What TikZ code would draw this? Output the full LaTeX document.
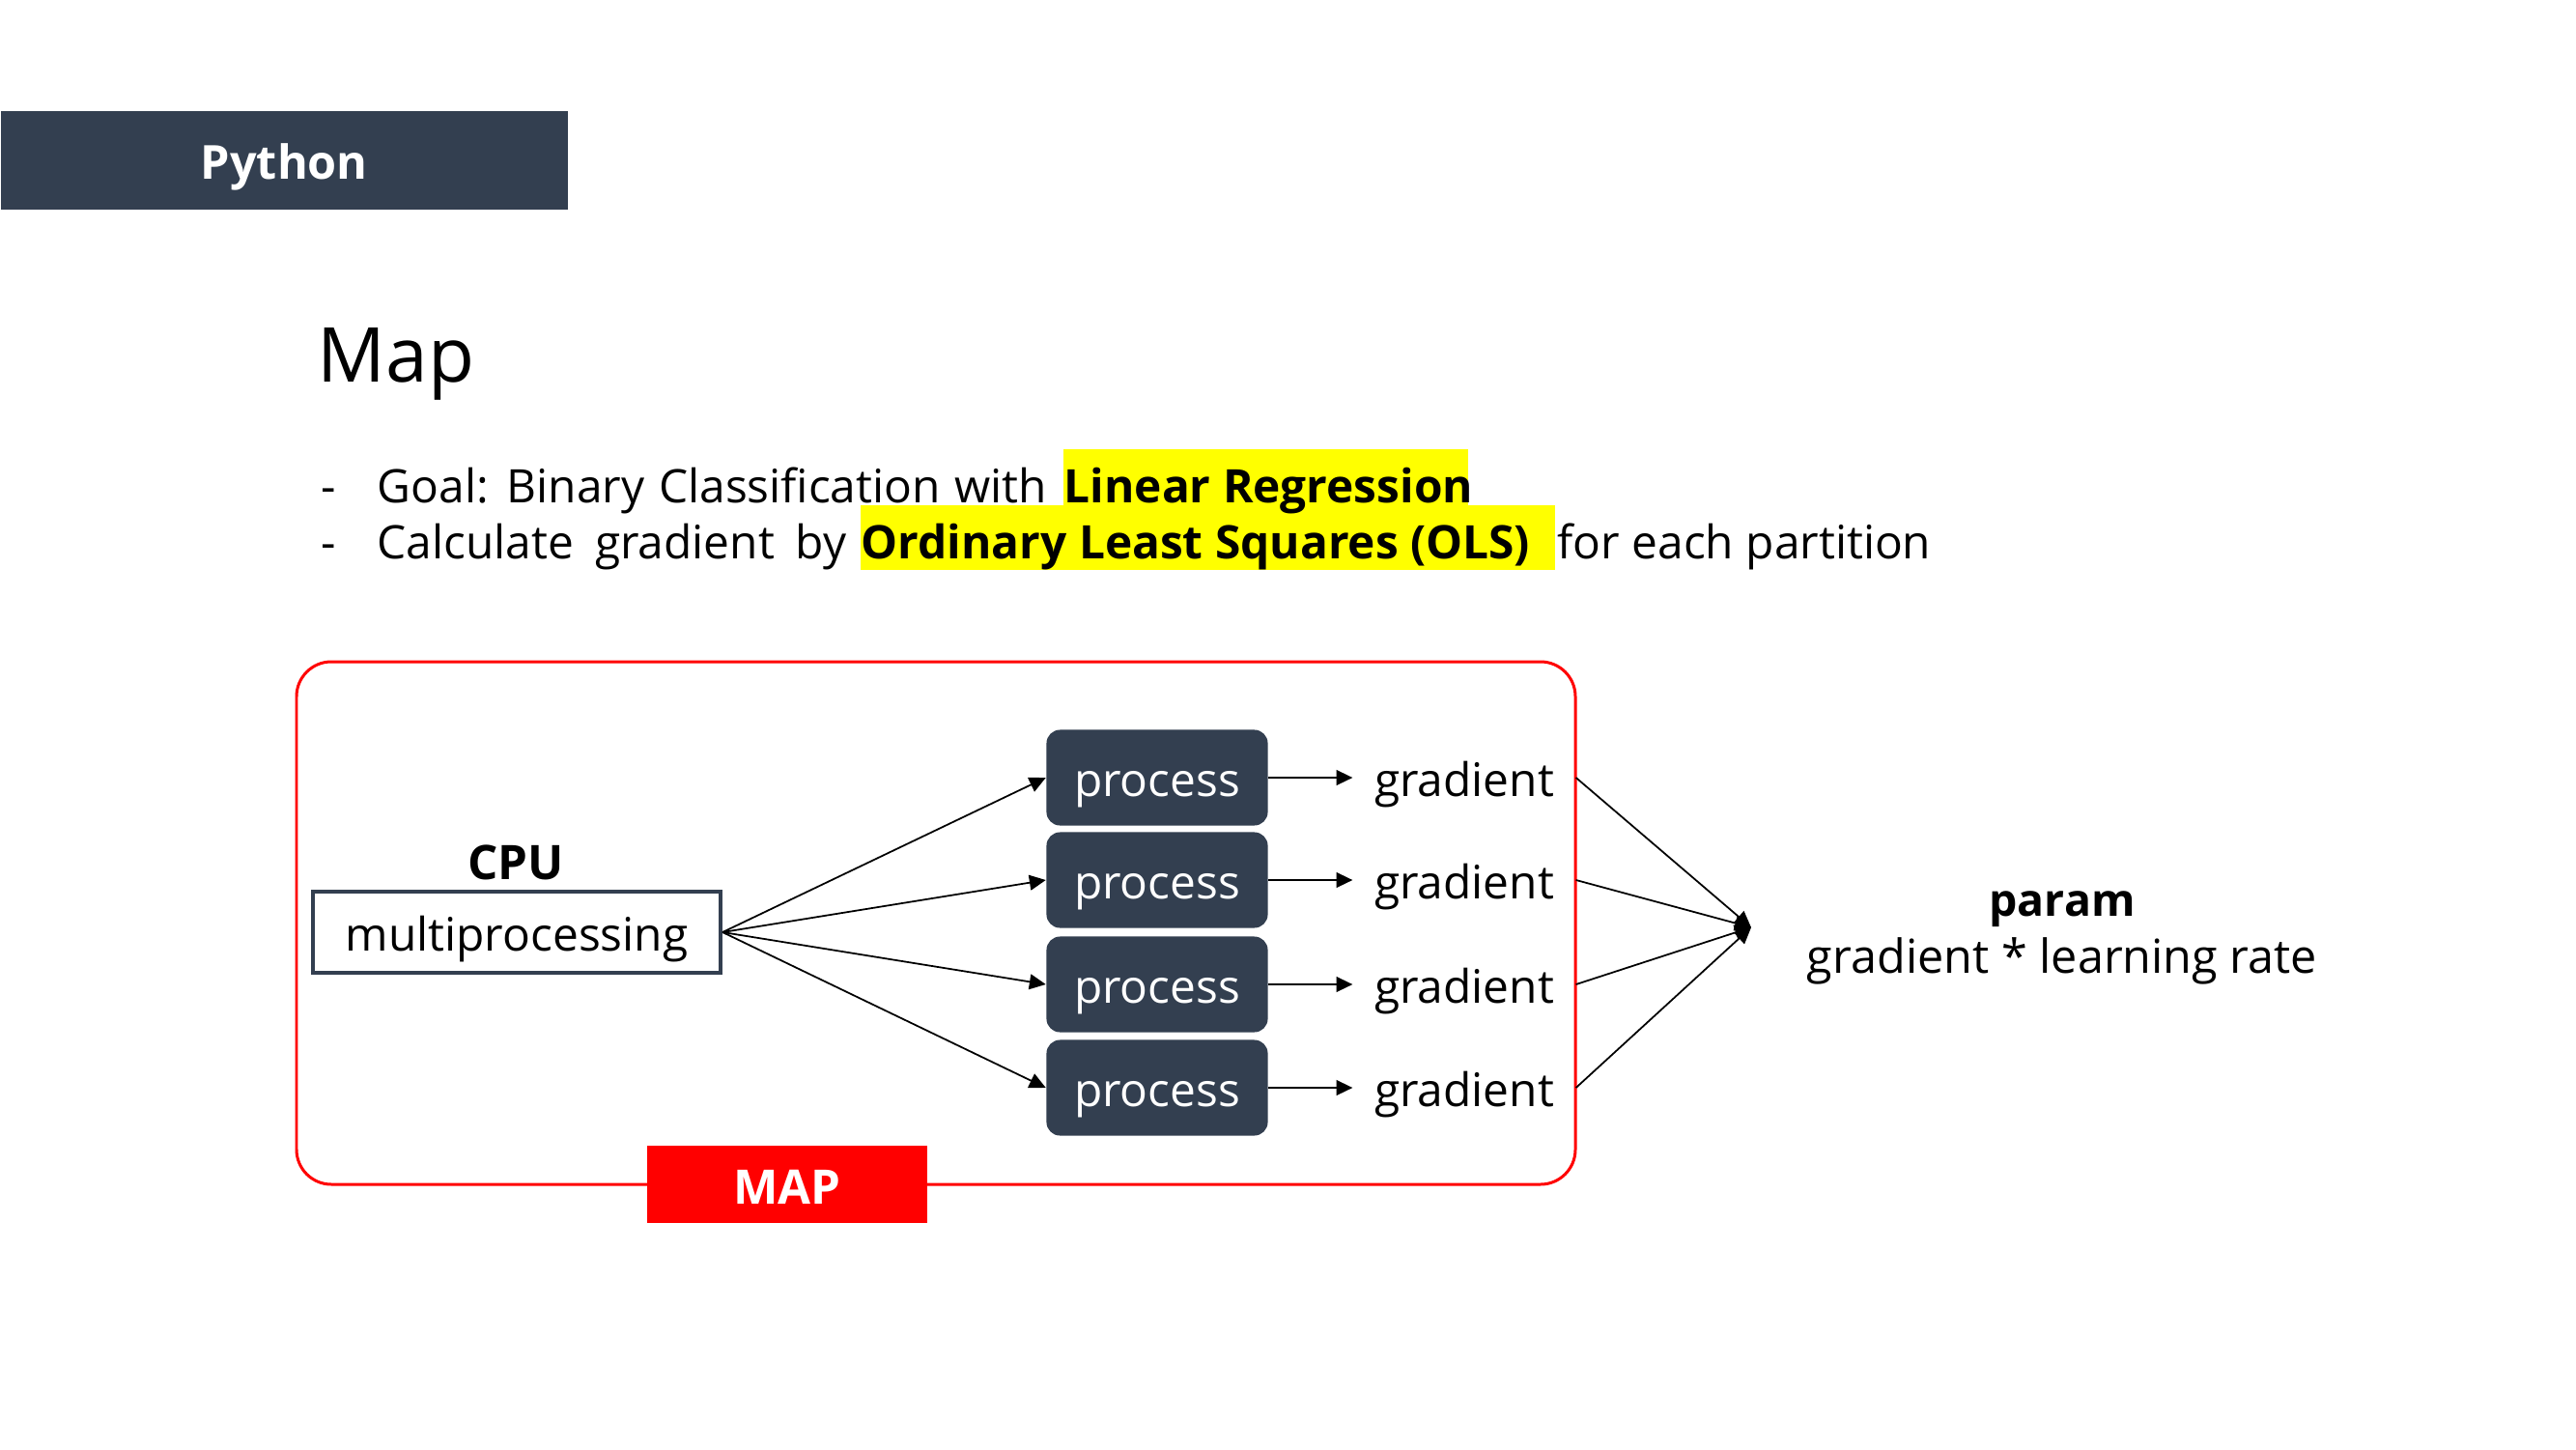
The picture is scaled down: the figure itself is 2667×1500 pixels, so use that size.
\documentclass[tikz,border=0pt]{standalone}
\usepackage{fontspec}
\setmainfont{Open Sans}
\usetikzlibrary{arrows.meta}
\definecolor{slate}{HTML}{333F50}
\definecolor{hl}{HTML}{FFFF00}
\definecolor{mapred}{HTML}{FF0000}
\tikzset{
  body/.style={font=\fontsize{13.6}{16}\selectfont, inner sep=0pt},
  boldtxt/.style={font=\bfseries\fontsize{13.6}{16}\selectfont, inner sep=0pt},
  mid/.style={text height=0.5cm, text depth=0.12cm},
  procbox/.style={fill=slate, rounded corners=0.14cm, minimum width=2.29cm, minimum height=0.99cm, inner sep=0pt, text=white, mid, font=\fontsize{13.6}{16}\selectfont},
  gradtxt/.style={font=\fontsize{13.6}{16}\selectfont, inner xsep=0.22cm, inner ysep=0pt, mid},
  arr/.style={line width=0.5pt, -{Triangle[length=4.8pt,width=4.5pt]}},
  hlbox/.style={fill=hl, draw=none},
}
\begin{document}
\begin{tikzpicture}[x=0.01cm,y=-0.01cm]
\useasboundingbox (0,0) rectangle (2667,1500);
% header
\node[fill=slate, minimum width=5.87cm, minimum height=1.02cm, anchor=north west, inner sep=0pt,
      text=white, text height=0.5cm, text depth=0.1cm, font=\bfseries\fontsize{13.8}{17}\selectfont] (pyhdr) at (0,114) {Python};
% title
\node[anchor=base west, inner sep=0pt, font=\fontsize{22.3}{27}\selectfont] (title) at (328,395) {Map};
% highlights
\fill[hlbox] (1101,465) rectangle (1520,532);
\fill[hlbox] (891,523) rectangle (1610,590);
% bullet line 1
\node[body, anchor=base west] (d1) at (332,520) {-};
\node[body, anchor=base west] (l1a) at (390,520) {\spaceskip=0.31em Goal: Binary Classification with};
\node[body, anchor=base west] (l1b) at (1101,520) {\bfseries Linear Regression};
% bullet line 2
\node[body, anchor=base west] (d2) at (332,578) {-};
\node[body, anchor=base west] (l2a) at (390,578) {\spaceskip=0.46em Calculate gradient by};
\node[body, anchor=base west] (l2b) at (891,578) {\bfseries Ordinary Least Squares (OLS)};
\node[body, anchor=base west] (l2c) at (1612,578) {for each partition};
% MAP frame
\draw[mapred, line width=0.85pt, rounded corners=0.36cm] (307,685) rectangle (1631,1226);
\node[fill=mapred, minimum width=2.9cm, minimum height=0.79cm, inner sep=0pt, text=white,
      text height=0.5cm, text depth=0.09cm,
      font=\bfseries\fontsize{14}{16}\selectfont] (maplbl) at (815,1226) {MAP};
% CPU
\node[boldtxt, anchor=base, font=\bfseries\fontsize{14}{16}\selectfont] (cpu) at (534,910) {CPU};
\node[draw=slate, line width=1.1pt, minimum width=4.22cm, minimum height=0.84cm, inner sep=0pt, mid,
      font=\fontsize{13.6}{16}\selectfont] (mp) at (535,965) {multiprocessing};
% processes
\node[procbox] (p1) at (1198,805) {process};
\node[procbox] (p2) at (1198,911) {process};
\node[procbox] (p3) at (1198,1019) {process};
\node[procbox] (p4) at (1198,1126) {process};
% gradients
\node[gradtxt] (g1) at (1516,805) {gradient};
\node[gradtxt] (g2) at (1516,911) {gradient};
\node[gradtxt] (g3) at (1516,1019) {gradient};
\node[gradtxt] (g4) at (1516,1126) {gradient};
% arrows
\foreach \i in {1,2,3,4} {
  \draw[arr] (mp.east) -- (p\i.west);
  \draw[arr] (p\i.east) -- (g\i.west);
}
\coordinate (conv) at (1813,960);
\foreach \i in {1,2,3,4} {
  \draw[arr] (g\i.east) -- (conv);
}
% param
\node[boldtxt, anchor=base, font=\bfseries\fontsize{13.2}{16}\selectfont] (param) at (2135,948) {param};
\node[body, anchor=base, font=\fontsize{13.8}{16}\selectfont] (formula) at (2135,1007) {gradient * learning rate};
\end{tikzpicture}
\end{document}
